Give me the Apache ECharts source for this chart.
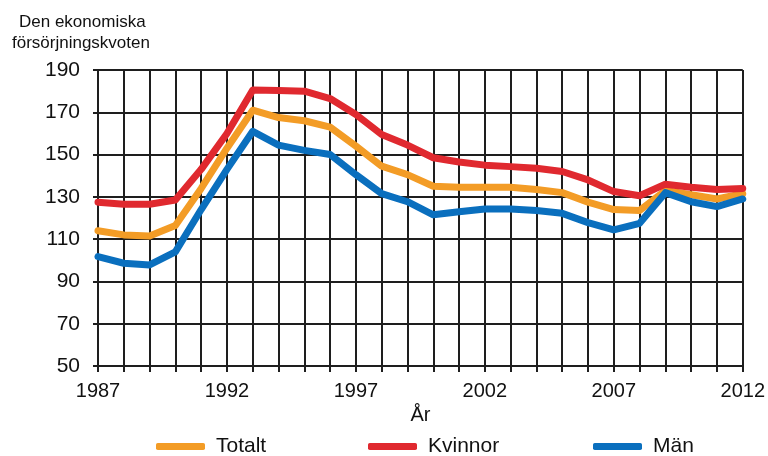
<!DOCTYPE html>
<html>
<head>
<meta charset="utf-8">
<script src="https://cdn.jsdelivr.net/npm/echarts@6/dist/echarts.min.js"></script>
<style>
	html, body { margin: 0; padding: 0; background: #fff; }
	#chart { width: 768px; height: 456px; }
</style>
</head>
<body>
<div id="chart"></div>
<script>
var years = [];
for (var y = 1987; y <= 2012; y++) years.push(String(y));

var totalt = [114, 112, 111.5, 116.5, 134, 153, 171, 167.5, 166, 163, 154, 144.5, 140.5, 135,
	134.5, 134.5, 134.5, 133.5, 132, 127.5, 124, 123.5, 133, 131, 129, 131.5];
var kvinnor = [127.5, 126.5, 126.5, 128.5, 143, 160, 180.5, 180.3, 180, 176.5, 169, 159.5, 154.5, 148.5,
	146.5, 145, 144.3, 143.5, 142, 138, 132.5, 130.5, 136, 134.5, 133.5, 134];
var man = [101.7, 98.6, 97.8, 104, 124, 143, 161, 154.5, 152, 150, 140.5, 131.5, 127.7, 121.5,
	123, 124.3, 124.3, 123.5, 122.2, 117.8, 114.4, 117.5, 132, 127.7, 125.4, 129];

var seriesNames = ["Totalt", "Kvinnor", "Män"];
var seriesColors = ["#f39c26", "#e0292f", "#0a6fbe"];
var seriesData = [totalt, kvinnor, man];

var sans = "'Liberation Sans', Arial, sans-serif";
var gridColor = "#1e1e1e";

var chart = echarts.init(document.getElementById("chart"));

var legendLefts = [156, 368, 593];
var legends = [];
var series = [];
for (var i = 0; i < seriesNames.length; i++) {
	legends.push({
		data: [seriesNames[i]],
		left: legendLefts[i],
		top: 436,
		icon: "roundRect",
		itemWidth: 49,
		itemHeight: 7,
		padding: 0,
		textStyle: {
			fontFamily: sans,
			fontSize: 21,
			color: "#111",
			padding: [0, 0, 0, 6]
		}
	});
	series.push({
		name: seriesNames[i],
		type: "line",
		data: seriesData[i],
		showSymbol: false,
		symbol: "none",
		animation: false,
		lineStyle: {
			color: seriesColors[i],
			width: 7,
			cap: "round",
			join: "round"
		},
		itemStyle: { color: seriesColors[i] }
	});
}

chart.setOption({
	animation: false,
	grid: { left: 98, right: 20, top: 70, bottom: 90, containLabel: false },
	graphic: [{
		type: "text",
		left: 19,
		top: 14,
		style: {
			text: "Den ekonomiska",
			font: "17px " + sans,
			fill: "#111"
		}
	}, {
		type: "text",
		left: 12,
		top: 35,
		style: {
			text: "försörjningskvoten",
			font: "17px " + sans,
			fill: "#111"
		}
	}],
	legend: legends,
	xAxis: {
		type: "category",
		data: years,
		boundaryGap: false,
		name: "År",
		nameLocation: "middle",
		nameGap: 38,
		nameTextStyle: { fontFamily: sans, fontSize: 20, color: "#111" },
		axisLine: { lineStyle: { color: gridColor, width: 2 } },
		axisTick: { show: true, interval: 0, length: 6, lineStyle: { color: gridColor, width: 2 } },
		axisLabel: {
			interval: 4,
			margin: 15,
			fontFamily: sans,
			fontSize: 20,
			color: "#111"
		},
		splitLine: { show: true, interval: 0, lineStyle: { color: gridColor, width: 2 } }
	},
	yAxis: {
		type: "value",
		min: 50,
		max: 190,
		interval: 20,
		axisLine: { show: true, lineStyle: { color: gridColor, width: 2 } },
		axisTick: { show: true, length: 5, lineStyle: { color: gridColor, width: 2 } },
		axisLabel: {
			margin: 18,
			fontFamily: sans,
			fontSize: 21,
			color: "#111"
		},
		splitLine: { show: true, lineStyle: { color: gridColor, width: 2 } }
	},
	series: series
});
</script>
</body>
</html>
